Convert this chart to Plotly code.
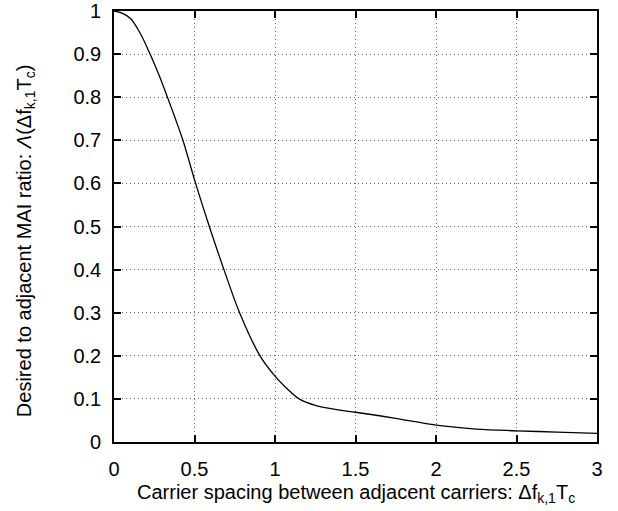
import plotly.graph_objects as go

spacing = [0, 0.05, 0.104, 0.166, 0.224, 0.28, 0.332, 0.38, 0.428, 0.507, 0.592, 0.683,
           0.78, 0.907, 1.0, 1.08, 1.15, 1.25, 1.4, 1.5, 1.75, 2.0, 2.25, 2.5, 2.75, 3.0]
ratio = [1.0, 0.995, 0.982, 0.946, 0.90, 0.851, 0.80, 0.751, 0.70, 0.60, 0.50, 0.40,
         0.30, 0.20, 0.153, 0.122, 0.10, 0.085, 0.074, 0.069, 0.055, 0.039, 0.030,
         0.026, 0.023, 0.020]

x_ticks = [0, 0.5, 1, 1.5, 2, 2.5, 3]
x_tick_labels = ["0", "0.5", "1", "1.5", "2", "2.5", "3"]
y_ticks = [0, 0.1, 0.2, 0.3, 0.4, 0.5, 0.6, 0.7, 0.8, 0.9, 1]
y_tick_labels = ["0", "0.1", "0.2", "0.3", "0.4", "0.5", "0.6", "0.7", "0.8", "0.9", "1"]

x_title = "Carrier spacing between adjacent carriers: Δf<sub>k,1</sub>T<sub>c</sub>"
y_title = "Desired to adjacent MAI ratio: <i>Λ</i>(Δf<sub>k,1</sub>T<sub>c</sub>)"

fig = go.Figure()
fig.add_trace(go.Scatter(x=spacing, y=ratio, mode="lines",
                         line=dict(color="black", width=1.3, shape="spline", smoothing=1.0),
                         showlegend=False, hoverinfo="skip"))

font = dict(family="Liberation Sans, Arial, Helvetica, sans-serif", color="black")
axis_common = dict(showline=True, linecolor="black", linewidth=1.6, mirror="ticks",
                   ticks="inside", ticklen=7, tickwidth=1.6, tickcolor="black",
                   showgrid=True, gridcolor="#666666", griddash="1px,3px", gridwidth=1,
                   zeroline=False, tickfont=dict(size=20, **font), automargin=False)

fig.update_layout(
    width=618, height=511,
    margin=dict(l=114, r=21, t=11, b=69),
    paper_bgcolor="white", plot_bgcolor="white",
    font=font,
    xaxis=dict(range=[0, 3], tickvals=x_ticks, ticktext=x_tick_labels,
               ticklabelstandoff=8, **axis_common),
    yaxis=dict(range=[0, 1], tickvals=y_ticks, ticktext=y_tick_labels,
               ticklabelstandoff=7, **axis_common),
    annotations=[
        dict(text=x_title, xref="paper", yref="paper", x=0.5, y=0, xanchor="center",
             yanchor="middle", yshift=-51, showarrow=False, font=dict(size=20, **font)),
        dict(text=y_title, xref="paper", yref="paper", x=0, y=0.466, xanchor="center",
             yanchor="middle", xshift=-89, textangle=-90, showarrow=False,
             font=dict(size=20, **font)),
    ],
)

fig.write_html("out.html", config={"displayModeBar": False},
               post_script="document.body.style.margin='0px';")
